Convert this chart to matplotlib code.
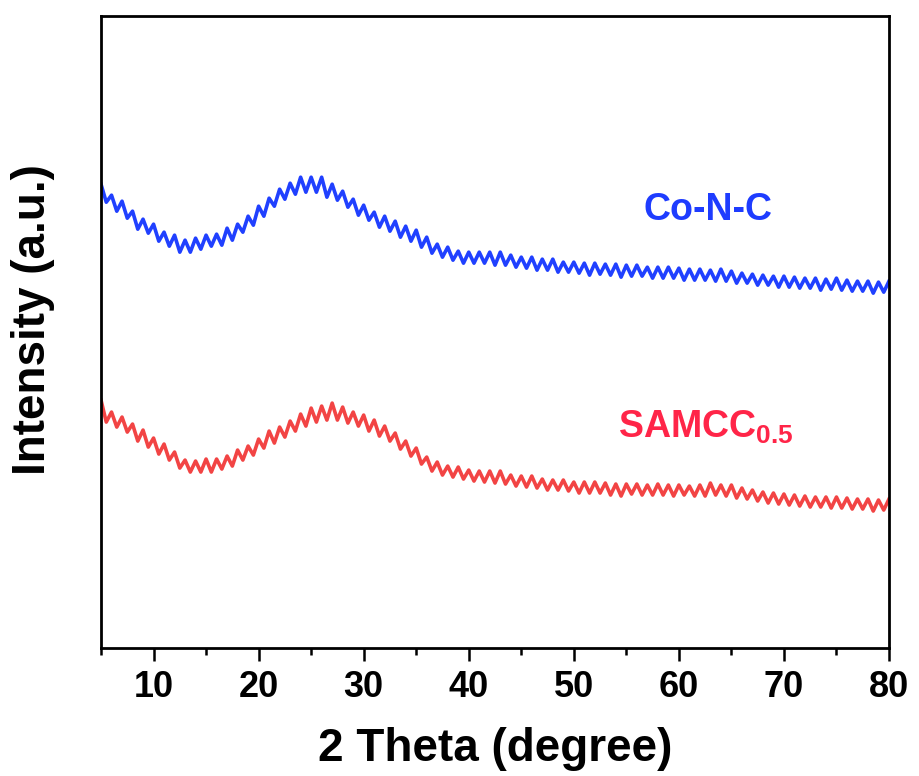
import numpy as np
import matplotlib
matplotlib.use('Agg')
import matplotlib.pyplot as plt

plt.rcParams['font.family'] = ['Liberation Sans', 'DejaVu Sans']
plt.rcParams['font.weight'] = 'bold'
plt.rcParams['mathtext.fontset'] = 'custom'
plt.rcParams['mathtext.rm'] = 'Liberation Sans:bold'
plt.rcParams['mathtext.bf'] = 'Liberation Sans:bold'

# 2 theta grid (0.5 degree steps, 5 -> 80)
two_theta = np.arange(5.0, 80.01, 0.5)

# Co-N-C intensity (a.u.)
co_n_c = [464, 446, 453, 437, 447, 430, 437, 419, 429, 415,
          424, 407, 416, 402, 413, 396, 408, 396, 410, 399,
          413, 402, 414, 403, 420, 408, 424, 416, 432, 423,
          442, 432, 450, 442, 459, 449, 465, 454, 471, 456,
          471, 456, 471, 451, 464, 448, 457, 441, 449, 433,
          443, 428, 436, 421, 432, 417, 427, 411, 422, 407,
          418, 401, 411, 395, 404, 391, 401, 388, 397, 385,
          396, 385, 396, 385, 396, 383, 396, 383, 393, 381,
          391, 380, 391, 378, 389, 378, 389, 376, 386, 376,
          386, 375, 385, 373, 385, 374, 384, 373, 384, 371,
          383, 372, 383, 372, 381, 370, 381, 370, 381, 370,
          380, 368, 379, 368, 379, 368, 378, 367, 379, 367,
          377, 365, 375, 365, 374, 363, 373, 363, 372, 361,
          372, 361, 371, 360, 370, 360, 370, 358, 369, 359,
          370, 358, 368, 357, 367, 357, 367, 355, 366, 356,
          367]

# SAMCC0.5 intensity (a.u.)
samcc = [248, 226, 236, 221, 231, 216, 224, 207, 218, 201,
         210, 194, 204, 188, 196, 180, 188, 176, 187, 176,
         189, 176, 189, 179, 192, 182, 198, 188, 202, 193,
         209, 200, 217, 205, 221, 211, 227, 217, 234, 222,
         240, 226, 242, 228, 245, 228, 241, 225, 236, 222,
         233, 217, 228, 212, 222, 207, 215, 199, 207, 192,
         200, 184, 191, 177, 186, 173, 182, 171, 181, 169,
         178, 167, 177, 166, 177, 165, 177, 164, 173, 162,
         172, 161, 172, 160, 169, 158, 168, 158, 168, 157,
         166, 155, 166, 155, 166, 155, 165, 153, 164, 152,
         164, 154, 164, 153, 163, 153, 164, 153, 163, 152,
         163, 153, 162, 152, 163, 152, 165, 153, 163, 152,
         163, 150, 160, 149, 158, 147, 156, 145, 155, 144,
         154, 143, 153, 142, 152, 141, 151, 141, 151, 140,
         151, 140, 150, 139, 149, 139, 149, 137, 148, 138,
         149]

fig = plt.figure(figsize=(9.2, 7.76), dpi=100)
ax = fig.add_axes([0.1098, 0.165, 0.8565, 0.814])

ax.plot(two_theta, co_n_c, color='#2040FF', lw=2.6)
ax.plot(two_theta, samcc, color='#F24444', lw=2.6)

ax.text(56.6, 428, 'Co-N-C', color='#1E3CFF', fontsize=27, fontweight='bold')
ax.text(54.2, 210, r'SAMCC$_{\mathbf{0.5}}$', color='#FF2548', fontsize=27,
        fontweight='bold')

ax.set_xlim(5, 80)
ax.set_ylim(0, 632)
ax.set_xticks(range(10, 81, 10))
ax.set_xticks(range(5, 81, 5), minor=True)
ax.set_yticks([])
ax.tick_params(axis='x', which='major', direction='out', length=9, width=1.8,
               labelsize=26, pad=7)
ax.tick_params(axis='x', which='minor', direction='out', length=5, width=1.8)
for lab in ax.get_xticklabels():
    lab.set_fontweight('bold')
for sp in ax.spines.values():
    sp.set_linewidth(2)

ax.set_xlabel('2 Theta (degree)', fontsize=33, fontweight='bold', labelpad=16)
ax.set_ylabel('Intensity (a.u.)', fontsize=33, fontweight='bold')
ax.yaxis.set_label_coords(-0.058, 0.52)

fig.savefig('out.png', dpi=100)
